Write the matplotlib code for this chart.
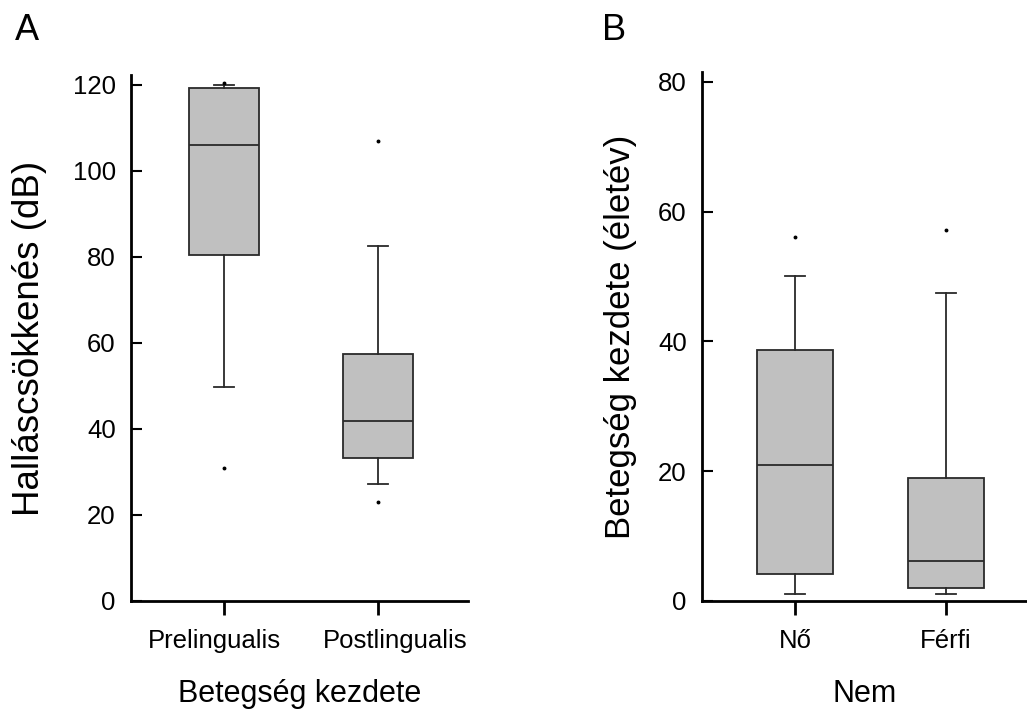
import matplotlib
matplotlib.use("Agg")
import matplotlib.pyplot as plt
from matplotlib.transforms import ScaledTranslation

plt.rcParams['font.family'] = ['Liberation Sans', 'DejaVu Sans']

# Panel A data
a_categories = ["Prelingualis", "Postlingualis"]
a_q1 = [80.5, 33.3]
a_med = [106.0, 41.9]
a_q3 = [119.3, 57.4]
a_whislo = [49.8, 27.2]
a_whishi = [120.0, 82.6]
a_fliers = [[31.0, 120.4], [23.0, 107.0]]
a_yticks = [0, 20, 40, 60, 80, 100, 120]

# Panel B data
b_categories = ["Nő", "Férfi"]
b_q1 = [4.2, 2.0]
b_med = [21.0, 6.2]
b_q3 = [38.7, 19.0]
b_whislo = [1.1, 1.1]
b_whishi = [50.1, 47.5]
b_fliers = [[56.1], [57.2]]
b_yticks = [0, 20, 40, 60, 80]

fig = plt.figure(figsize=(10.27, 7.18), dpi=100)

def make_stats(q1, med, q3, lo, hi, fl):
    return [dict(q1=q1[i], med=med[i], q3=q3[i], whislo=lo[i], whishi=hi[i],
                 fliers=fl[i]) for i in range(len(q1))]

def draw(ax, stats, cats, yticks, ylim, xlim, width, capw, ylabel, xlabel,
         ylab_size, ylab_x, xlab_y, label_shifts):
    ax.bxp(stats, positions=[1, 2], widths=width, patch_artist=True,
           capwidths=capw,
           boxprops=dict(facecolor='#c0c0c0', edgecolor='#2a2a2a', linewidth=1.3),
           medianprops=dict(color='#2a2a2a', linewidth=1.3),
           whiskerprops=dict(color='#2a2a2a', linewidth=1.3),
           capprops=dict(color='#2a2a2a', linewidth=1.3),
           flierprops=dict(marker='o', markersize=1.8, markerfacecolor='black',
                           markeredgecolor='black', linestyle='none'))
    ax.set_xlim(*xlim)
    ax.set_ylim(*ylim)
    ax.set_yticks(yticks)
    ax.set_xticks([1, 2])
    ax.set_xticklabels(cats, fontsize=18.5)
    ax.tick_params(axis='y', direction='in', length=8, width=1.5, labelsize=18.5, pad=11)
    ax.tick_params(axis='x', direction='out', length=10, width=2, pad=10)
    for s in ['top', 'right']:
        ax.spines[s].set_visible(False)
    for s in ['left', 'bottom']:
        ax.spines[s].set_linewidth(2)
    ax.set_ylabel(ylabel, fontsize=ylab_size)
    ax.set_xlabel(xlabel, fontsize=22)
    ax.yaxis.set_label_coords(ylab_x, 0.5)
    ax.xaxis.set_label_coords(0.5, xlab_y)
    for lab, dx in zip(ax.get_xticklabels(), label_shifts):
        lab.set_transform(lab.get_transform() + ScaledTranslation(dx / 100, 0, fig.dpi_scale_trans))

axA = fig.add_axes([0.1276, 0.163, 0.3281, 0.7326])
draw(axA, make_stats(a_q1, a_med, a_q3, a_whislo, a_whishi, a_fliers), a_categories,
     a_yticks, (0, 122.3), (0.396, 2.584), 0.455, 0.13,
     "Halláscsökkenés (dB)", "Betegség kezdete", 26.5,
     (47 - 131) / 337, (601 - 679) / 526, [-10, 17])

axB = fig.add_axes([0.6835, 0.163, 0.3165, 0.7368])
draw(axB, make_stats(b_q1, b_med, b_q3, b_whislo, b_whishi, b_fliers), b_categories,
     b_yticks, (0, 81.5), (0.384, 2.536), 0.50, 0.13,
     "Betegség kezdete (életév)", "Nem", 25,
     (637 - 702) / 325, (601 - 679) / 529, [0, 0])

fig.text(15 / 1027, 1 - 40 / 718, "A", fontsize=26)
fig.text(602 / 1027, 1 - 40 / 718, "B", fontsize=26)

fig.savefig("out.png", dpi=100)
